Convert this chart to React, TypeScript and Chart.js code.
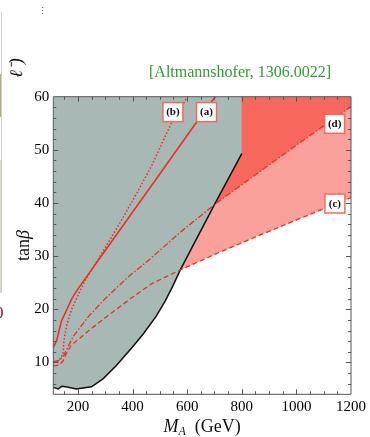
import { useEffect, useRef } from "react";
import { Chart, registerables } from "chart.js";

Chart.register(...registerables);

const X_MIN = 110;
const X_MAX = 1200;
const Y_MIN = 4;
const Y_MAX = 60;
const X_TICKS = [200, 400, 600, 800, 1000, 1200];
const Y_TICKS = [10, 20, 30, 40, 50, 60];

// Black boundary of the excluded (grey) region
const boundaryM = [110, 128, 141, 155, 195, 250, 292, 341, 400, 440, 487, 520, 548, 575, 700, 800];
const boundaryTan = [5.3, 5.0, 5.5, 5.4, 5.0, 5.4, 6.9, 9.4, 12.9, 15.4, 18.7, 21.6, 24.4, 27.4, 39.7, 49.3];

// (a) solid
const aM = [110, 122, 140, 177, 201, 280, 402, 524, 633, 703];
const aTan = [12.8, 14.1, 17.8, 21.9, 23.9, 29.6, 38.4, 47.2, 55.1, 60];

// (b) dotted
const bM = [110, 130, 145, 150, 160, 177, 220, 274, 340, 402, 470, 541, 601];
const bTan = [10.1, 10.3, 11.5, 14.5, 17.2, 20.0, 24.8, 29.4, 35.0, 40.6, 47.0, 54.9, 60];

// (c) dashed
const cM = [110, 130, 145, 155, 175, 250, 305, 390, 470, 575, 700, 850, 1000, 1200];
const cTan = [9.3, 9.5, 10.2, 11.4, 13.2, 16.4, 18.6, 21.9, 24.8, 27.4, 30.3, 33.6, 36.8, 41.0];

// (d) dash-dotted
const dM = [110, 130, 145, 155, 183, 240, 298, 380, 463, 575, 700, 850, 1000, 1200];
const dTan = [10.1, 10.4, 11.0, 12.0, 14.9, 18.7, 21.9, 25.9, 29.4, 34.5, 39.7, 45.3, 50.9, 58.1];

const labelText = ["(a)", "(b)", "(c)", "(d)"];
const labelM = [671, 548, 1141, 1140];
const labelTan = [57.1, 57.1, 39.9, 54.9];

const GREY = "#a8b8b5";
const DARK_RED = "#f7675b";
const LIGHT_RED = "#f9a19a";
const LINE_RED = "#ef2a1e";

const pts = (xs: number[], ys: number[]) => xs.map((x, i) => ({ x, y: ys[i] }));
const ptsFrom = (xs: number[], ys: number[], from: number) =>
  xs.map((x, i) => ({ x, y: ys[i] })).filter((p) => p.x >= from);

const SERIF = "'Liberation Serif', 'Times New Roman', serif";

const decorPlugin = {
  id: "decor",
  afterDatasetsDraw(chart: any) {
    const { ctx, scales } = chart;
    const xs = scales.x;
    const ys = scales.y;
    ctx.save();
    labelText.forEach((t, i) => {
      const cx = xs.getPixelForValue(labelM[i]);
      const cy = ys.getPixelForValue(labelTan[i]);
      const w = 20;
      const h = 19;
      ctx.fillStyle = "#ffffff";
      ctx.fillRect(cx - w / 2, cy - h / 2, w, h);
      ctx.strokeStyle = "#f26a5e";
      ctx.lineWidth = 1.5;
      ctx.strokeRect(cx - w / 2, cy - h / 2, w, h);
      ctx.fillStyle = "#111";
      ctx.font = `bold 11px ${SERIF}`;
      ctx.textAlign = "center";
      ctx.textBaseline = "middle";
      ctx.fillText(t, cx, cy + 0.5);
    });
    ctx.restore();
  },
  afterDraw(chart: any) {
    const { ctx, chartArea, scales } = chart;
    const { left, right, top, bottom } = chartArea;
    const xs = scales.x;
    const ys = scales.y;
    ctx.save();
    ctx.strokeStyle = "#555";
    ctx.lineWidth = 1;
    ctx.beginPath();
    ctx.rect(left, top, right - left, bottom - top);
    ctx.stroke();
    ctx.beginPath();
    for (let v = 150; v < X_MAX; v += 50) {
      const px = Math.round(xs.getPixelForValue(v)) + 0.5;
      const len = v % 200 === 0 ? 5 : 3;
      ctx.moveTo(px, bottom);
      ctx.lineTo(px, bottom - len);
      ctx.moveTo(px, top);
      ctx.lineTo(px, top + len);
    }
    for (let v = 6; v < Y_MAX; v += 2) {
      const py = Math.round(ys.getPixelForValue(v)) + 0.5;
      const len = v % 10 === 0 ? 5 : 3;
      ctx.moveTo(left, py);
      ctx.lineTo(left + len, py);
      ctx.moveTo(right, py);
      ctx.lineTo(right - len, py);
    }
    ctx.stroke();

    ctx.fillStyle = "#111";
    ctx.textBaseline = "alphabetic";
    const cxPlot = (left + right) / 2;
    const cyPlot = (top + bottom) / 2;
    ctx.font = `italic 18px ${SERIF}`;
    const wM = ctx.measureText("M").width;
    ctx.font = `italic 12px ${SERIF}`;
    const wA = ctx.measureText("A").width;
    ctx.font = `18px ${SERIF}`;
    const rest = "  (GeV)";
    const wR = ctx.measureText(rest).width;
    let x0 = cxPlot - (wM + wA + wR) / 2;
    const by = 432;
    ctx.textAlign = "left";
    ctx.font = `italic 18px ${SERIF}`;
    ctx.fillText("M", x0, by);
    x0 += wM;
    ctx.font = `italic 12px ${SERIF}`;
    ctx.fillText("A", x0, by + 3);
    x0 += wA;
    ctx.font = `18px ${SERIF}`;
    ctx.fillText(rest, x0, by);

    ctx.save();
    ctx.translate(29, cyPlot);
    ctx.rotate(-Math.PI / 2);
    ctx.font = `18px ${SERIF}`;
    const wt = ctx.measureText("tan").width;
    ctx.font = `italic 18px ${SERIF}`;
    const wb = ctx.measureText("β").width;
    const y0 = -(wt + wb) / 2;
    ctx.font = `18px ${SERIF}`;
    ctx.fillText("tan", y0, 0);
    ctx.font = `italic 18px ${SERIF}`;
    ctx.fillText("β", y0 + wt, 0);
    ctx.restore();

    ctx.fillStyle = "#2e9e2e";
    ctx.font = `16px ${SERIF}`;
    ctx.textAlign = "right";
    ctx.fillText("[Altmannshofer, 1306.0022]", 331, 77);
    ctx.restore();
  },
};

export default function App() {
  const ref = useRef<HTMLCanvasElement | null>(null);
  useEffect(() => {
    if (!ref.current) return;
    const common = { pointRadius: 0, tension: 0, pointHoverRadius: 0 };
    const chart = new Chart(ref.current, {
      type: "line",
      data: {
        datasets: [
          { ...common, data: pts(aM, aTan), borderColor: LINE_RED, borderWidth: 1.5, fill: false, order: 0 },
          { ...common, data: pts(bM, bTan), borderColor: LINE_RED, borderWidth: 1.5, borderDash: [1.5, 2], fill: false, order: 1 },
          { ...common, data: pts(cM, cTan), borderColor: LINE_RED, borderWidth: 1.3, borderDash: [5, 3], fill: false, order: 2 },
          { ...common, data: pts(dM, dTan), borderColor: LINE_RED, borderWidth: 1.3, borderDash: [6, 2, 1.5, 2], fill: false, order: 3 },
          { ...common, data: pts(boundaryM, boundaryTan), borderColor: "#111", borderWidth: 1.5, backgroundColor: GREY, fill: "end", order: 4 },
          { ...common, data: ptsFrom(dM, dTan, 690), borderWidth: 0, borderColor: "rgba(0,0,0,0)", backgroundColor: DARK_RED, fill: "end", order: 5 },
          { ...common, data: ptsFrom(cM, cTan, 575), borderWidth: 0, borderColor: "rgba(0,0,0,0)", backgroundColor: LIGHT_RED, fill: "end", order: 6 },
        ],
      },
      options: {
        animation: false,
        responsive: false,
        devicePixelRatio: 1,
        layout: { padding: { left: 0, top: 96.7, right: 18.3, bottom: 0 } },
        plugins: { legend: { display: false }, tooltip: { enabled: false } },
        scales: {
          x: {
            type: "linear",
            min: X_MIN,
            max: X_MAX,
            afterBuildTicks: (s: any) => {
              s.ticks = X_TICKS.map((v) => ({ value: v }));
            },
            afterFit: (s: any) => {
              s.height = 42.7;
            },
            grid: { display: false, drawTicks: false },
            border: { display: false },
            ticks: {
              padding: 4,
              color: "#000",
              autoSkip: false,
              maxRotation: 0,
              callback: (v: any) => String(v),
              font: { family: SERIF, size: 15 },
            },
          },
          y: {
            type: "linear",
            min: Y_MIN,
            max: Y_MAX,
            afterBuildTicks: (s: any) => {
              s.ticks = Y_TICKS.map((v) => ({ value: v }));
            },
            afterFit: (s: any) => {
              s.width = 53.3;
            },
            grid: { display: false, drawTicks: false },
            border: { display: false },
            ticks: {
              padding: 4,
              color: "#000",
              callback: (v: any) => String(v),
              font: { family: SERIF, size: 15 },
            },
          },
        },
      },
      plugins: [decorPlugin],
    } as any);
    return () => chart.destroy();
  }, []);

  return (
    <div style={{ position: "absolute", left: 0, top: 0, width: 370, height: 437, background: "#fff", overflow: "hidden" }}>
      <div style={{ position: "absolute", left: 1, top: 12, width: 1, height: 281, background: "#d0d0d0" }} />
      <div style={{ position: "absolute", left: 0, top: 74, width: 1, height: 43, background: "#b4ae72" }} />
      <div style={{ position: "absolute", left: 0, top: 160, width: 1, height: 133, background: "#cfe0c6" }} />
      <span style={{ position: "absolute", left: -5, top: 303, fontFamily: SERIF, fontSize: 17, color: "#6e1f3f", lineHeight: "20px" }}>0</span>
      <span style={{ position: "absolute", left: 38, top: 6, fontFamily: SERIF, fontSize: 9, color: "#444", lineHeight: "10px" }}>⋮</span>
      <span
        style={{
          position: "absolute",
          left: 6,
          top: 58,
          fontFamily: SERIF,
          fontStyle: "italic",
          fontSize: 18,
          color: "#111",
          lineHeight: "20px",
          transform: "rotate(-90deg)",
          transformOrigin: "center",
          whiteSpace: "nowrap",
        }}
      >
        ℓ⁻)
      </span>
      <canvas ref={ref} width={370} height={437} style={{ position: "absolute", left: 0, top: 0, width: 370, height: 437 }} />
    </div>
  );
}
